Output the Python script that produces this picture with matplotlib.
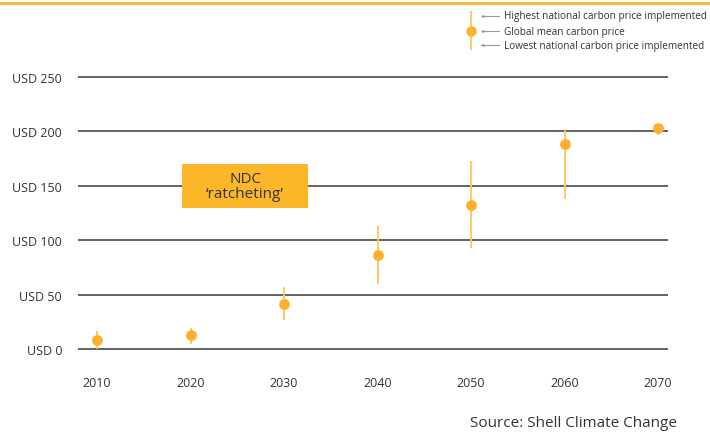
import matplotlib
matplotlib.use("Agg")
import matplotlib.pyplot as plt
from matplotlib.patches import Rectangle

plt.rcParams['font.family'] = ['Open Sans', 'DejaVu Sans']

years = [2010, 2020, 2030, 2040, 2050, 2060, 2070]
mean_price = [8, 13, 41, 86, 132, 188, 203]
high_price = [17, 19, 57, 113, 173, 202, 205]
low_price = [0, 5, 27, 60, 93, 138, 197]
y_ticks = [0, 50, 100, 150, 200, 250]
y_labels = ["USD 0", "USD 50", "USD 100", "USD 150", "USD 200", "USD 250"]
legend_labels = ["Highest national carbon price implemented",
                 "Global mean carbon price",
                 "Lowest national carbon price implemented"]

ORANGE = "#FBB12E"
WHISK = "#FDC556"
GRID = "#383838"
TXT = "#333333"

W, H = 710, 435
fig = plt.figure(figsize=(W / 100, H / 100), dpi=100)

# axes pixel box
ax_l, ax_r, ax_t, ax_b = 78, 668, 70, 360
ax = fig.add_axes([ax_l / W, 1 - ax_b / H, (ax_r - ax_l) / W, (ax_b - ax_t) / H])
pxy = 1.088
pxx = 9.35
ax.set_xlim(2010 - (97 - ax_l) / pxx, 2010 + (ax_r - 97) / pxx)
ax.set_ylim(-(ax_b - 350) / pxy, (350 - ax_t) / pxy)

for s in ax.spines.values():
    s.set_visible(False)
for yv in y_ticks:
    ax.axhline(yv, color=GRID, lw=1.1, zorder=1)

ax.set_yticks(y_ticks)
ax.set_yticklabels(y_labels)
ax.set_xticks(years)
ax.set_xticklabels([str(y) for y in years])
ax.tick_params(axis='y', length=0, pad=11.5, labelsize=9, labelcolor=TXT)
ax.tick_params(axis='x', length=0, pad=12, labelsize=9, labelcolor=TXT)

# NDC box
ax.add_patch(Rectangle((2019.1, 129.6), 13.5, 40.4, facecolor="#FBB62A",
                       edgecolor='none', zorder=3))
ax.text(2019.1 + 6.75, 149.8, "NDC\n\u2018ratcheting\u2019", ha='center', va='center',
        fontsize=11, color=TXT, zorder=4, linespacing=0.95)

# whiskers and dots
ax.vlines(years, low_price, high_price, color=WHISK, lw=1.3, zorder=4, clip_on=False)
ax.plot(years, mean_price, 'o', color=ORANGE, ms=7.8, mec='none', zorder=5, clip_on=False)

# top orange rule
fig.add_artist(plt.Line2D([0, 1], [1 - 4 / H, 1 - 4 / H], transform=fig.transFigure,
                          color="#FBB62A", lw=2))

# legend
lx = 471 / W
fig.add_artist(plt.Line2D([lx, lx], [1 - 13 / H, 1 - 50 / H], transform=fig.transFigure,
                          color=WHISK, lw=1.3))
fig.add_artist(plt.Line2D([lx], [1 - 32 / H], transform=fig.transFigure, marker='o',
                          color=ORANGE, ms=7.5, mec='none'))
for i, (lab, yp) in enumerate(zip(legend_labels, [17, 32, 46])):
    fy = 1 - yp / H
    fig.add_artist(plt.Line2D([484 / W, 499 / W], [fy, fy], transform=fig.transFigure,
                              color="#999999", lw=0.8))
    fig.add_artist(plt.Line2D([482 / W], [fy], transform=fig.transFigure, marker='<',
                              color="#999999", ms=2.5, mec='none'))
    fig.text(504 / W, fy, lab, ha='left', va='center', fontsize=7.2, color=TXT)

fig.text(677 / W, 1 - 424 / H, "Source: Shell Climate Change", ha='right', va='center',
         fontsize=11, color=TXT)

fig.savefig("out.png", dpi=100)
